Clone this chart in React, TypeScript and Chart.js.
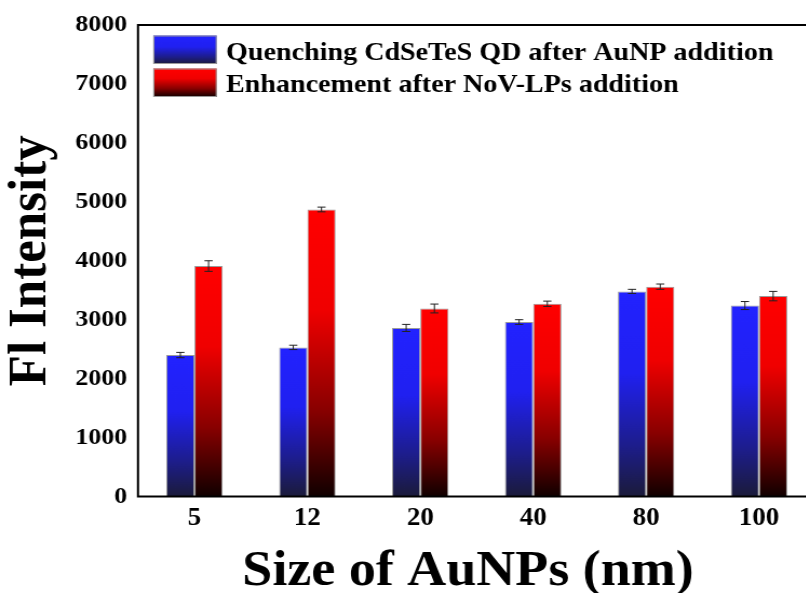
import React, { useEffect, useRef } from "react";
import { Chart, registerables } from "chart.js";

Chart.register(...registerables);

// ---- data ----
const categories = ["5", "12", "20", "40", "80", "100"];
const quenchingLabel = "Quenching CdSeTeS QD after AuNP addition";
const enhancementLabel = "Enhancement after NoV-LPs addition";
const quenching = [2400, 2530, 2860, 2960, 3480, 3240];
const quenchingErr = [45, 37, 60, 40, 35, 68];
const enhancement = [3910, 4870, 3190, 3270, 3560, 3400];
const enhancementErr = [90, 40, 75, 45, 45, 80];
const yMin = 0;
const yMax = 8000;
const yStep = 1000;
const xTitle = "Size of AuNPs (nm)";
const yTitle = "Fl Intensity";

// ---- styling ----
const S = 1.08; // horizontal stretch of the original figure
const W = 760;
const H = 593;
const FONT = "Liberation Serif, Times New Roman, serif";

const blueStops: [number, string][] = [
  [0, "#2222ff"],
  [0.4, "#2020f0"],
  [0.75, "#1d1d8c"],
  [1, "#1b1b3a"],
];
const redStops: [number, string][] = [
  [0, "#ff0000"],
  [0.35, "#f00000"],
  [0.7, "#880000"],
  [1, "#100000"],
];

function makeGrad(c: CanvasRenderingContext2D, top: number, bottom: number, stops: [number, string][]) {
  const g = c.createLinearGradient(0, top, 0, bottom);
  stops.forEach(([o, col]) => g.addColorStop(o, col));
  return g;
}

function barFill(stops: [number, string][]) {
  return (ctx: any) => {
    const chart = ctx.chart;
    if (!chart.chartArea || ctx.raw === undefined || !chart.scales.y) return stops[0][1];
    const y = chart.scales.y;
    const top = y.getPixelForValue(ctx.raw);
    const bottom = y.getPixelForValue(0);
    if (!isFinite(top) || !isFinite(bottom) || top === bottom) return stops[0][1];
    return makeGrad(chart.ctx, top, bottom, stops);
  };
}

export default function App() {
  const ref = useRef<HTMLCanvasElement>(null);

  useEffect(() => {
    const canvas = ref.current!;
    const errs = [quenchingErr, enhancementErr];
    const stopsList = [blueStops, redStops];
    let chart: any = null;
    let cancelled = false;

    const decor = {
      id: "decor",
      afterDatasetsDraw(ch: any) {
        const c: CanvasRenderingContext2D = ch.ctx;
        const ys = ch.scales.y;
        // error bars
        ch.data.datasets.forEach((ds: any, i: number) => {
          const meta = ch.getDatasetMeta(i);
          meta.data.forEach((bar: any, j: number) => {
            const v = ds.data[j];
            const e = errs[i][j];
            const yt = ys.getPixelForValue(v + e);
            const yb = ys.getPixelForValue(v - e);
            const x = bar.x;
            const cap = 3.8;
            c.save();
            c.strokeStyle = "#222";
            c.lineWidth = 1;
            c.beginPath();
            c.moveTo(x, yt);
            c.lineTo(x, yb);
            c.moveTo(x - cap, yt);
            c.lineTo(x + cap, yt);
            c.moveTo(x - cap, yb);
            c.lineTo(x + cap, yb);
            c.stroke();
            c.restore();
          });
        });
        // frame
        const a = ch.chartArea;
        c.save();
        c.strokeStyle = "#000";
        c.lineWidth = 2;
        c.strokeRect(a.left, a.top, a.right - a.left, a.bottom - a.top);
        c.restore();
        // legend
        const rows = [
          { top: 35.5, h: 28.5, base: 59.5 },
          { top: 68.5, h: 28.5, base: 92.2 },
        ];
        const sx = 153.3 / S;
        const sw = (216.7 - 153.3) / S;
        const tx = 226 / S;
        ch.data.datasets.forEach((ds: any, i: number) => {
          const r = rows[i];
          c.save();
          c.fillStyle = makeGrad(c, r.top, r.top + r.h, stopsList[i]);
          c.fillRect(sx, r.top, sw, r.h);
          c.strokeStyle = "#9a9a9a";
          c.lineWidth = 1;
          c.strokeRect(sx + 0.5, r.top + 0.5, sw - 1, r.h - 1);
          c.fillStyle = "#000";
          c.font = `bold 26px ${FONT}`;
          c.textAlign = "left";
          c.textBaseline = "alphabetic";
          c.fillText(ds.label, tx, r.base);
          c.restore();
        });
        // x-axis title
        c.save();
        c.fillStyle = "#000";
        c.font = `bold 50px ${FONT}`;
        c.textAlign = "center";
        c.textBaseline = "alphabetic";
        c.fillText(xTitle, 468 / S, 585);
        c.restore();
      },
    };

    const build = () => {
      if (cancelled) return;
      chart = new Chart(canvas, {
        type: "bar",
        data: {
          labels: categories,
          datasets: [
            {
              label: quenchingLabel,
              data: quenching,
              backgroundColor: barFill(blueStops),
              borderColor: "#9a9a9a",
              borderWidth: 1,
            },
            {
              label: enhancementLabel,
              data: enhancement,
              backgroundColor: barFill(redStops),
              borderColor: "#9a9a9a",
              borderWidth: 1,
            },
          ],
        },
        options: {
          animation: false,
          responsive: false,
          devicePixelRatio: 1,
          layout: { padding: { top: 25, right: W - 815.5 / S, bottom: 0, left: 0 } },
          datasets: { bar: { categoryPercentage: 0.5, barPercentage: 1 } },
          plugins: {
            legend: { display: false },
            tooltip: { enabled: false },
          },
          scales: {
            x: {
              grid: { display: false, drawTicks: false },
              border: { display: false },
              ticks: {
                color: "#000",
                font: { family: FONT, size: 25, weight: "bold" },
                padding: 7,
              },
              title: { display: false },
              afterFit(s: any) {
                s.height = H - 496.5;
              },
            },
            y: {
              min: yMin,
              max: yMax,
              grid: { display: false, drawTicks: false },
              border: { display: false },
              ticks: {
                stepSize: yStep,
                color: "#000",
                font: { family: FONT, size: 24, weight: "bold" },
                padding: 10,
                callback: (v: any) => String(v),
              },
              title: {
                display: true,
                text: yTitle,
                color: "#000",
                font: { family: FONT, size: 51, weight: "bold", lineHeight: 1 },
                padding: { top: 3.6, bottom: 0 },
              },
              afterFit(s: any) {
                s.width = 138 / S;
              },
            },
          },
        },
        plugins: [decor],
      } as any);
    };

    const fonts: any = (document as any).fonts;
    if (fonts && fonts.load) {
      Promise.all([
        fonts.load(`bold 24px "Liberation Serif"`),
        fonts.load(`bold 50px "Liberation Serif"`),
      ])
        .catch(() => null)
        .then(build);
    } else {
      build();
    }

    return () => {
      cancelled = true;
      if (chart) chart.destroy();
    };
  }, []);

  return (
    <div
      style={{
        position: "fixed",
        left: 0,
        top: 0,
        width: 806,
        height: 593,
        overflow: "hidden",
        background: "#fff",
      }}
    >
      <canvas
        ref={ref}
        width={W}
        height={H}
        style={{ width: W, height: H, transform: `scaleX(${S})`, transformOrigin: "0 0", display: "block" }}
      />
    </div>
  );
}
